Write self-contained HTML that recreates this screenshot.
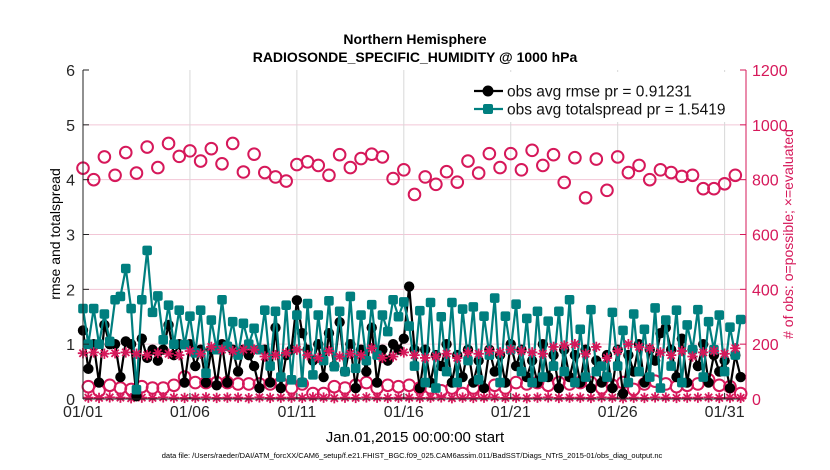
<!DOCTYPE html>
<html><head><meta charset="utf-8">
<style>
html,body{margin:0;padding:0;background:#fff;}
svg{display:block;font-family:"Liberation Sans",sans-serif;}
</style></head>
<body>
<svg id="chart" width="830" height="470" viewBox="0 0 830 470" xmlns="http://www.w3.org/2000/svg">
<rect x="0" y="0" width="830" height="470" fill="#fff"/>
<g id="grid"></g>
<g id="series"></g>
<g id="axes"></g>
<text x="415" y="44" text-anchor="middle" font-size="14" font-weight="bold">Northern Hemisphere</text>
<text x="415" y="62" text-anchor="middle" font-size="14" font-weight="bold">RADIOSONDE_SPECIFIC_HUMIDITY @ 1000 hPa</text>
<text transform="translate(60,234) rotate(-90)" text-anchor="middle" font-size="14">rmse and totalspread</text>
<text transform="translate(793,234) rotate(-90)" text-anchor="middle" font-size="14" fill="#d6185a"># of obs: o=possible; ×=evaluated</text>
<text x="415" y="442" text-anchor="middle" font-size="15">Jan.01,2015 00:00:00 start</text>
<text x="412" y="458" text-anchor="middle" font-size="7.5">data file: /Users/raeder/DAI/ATM_forcXX/CAM6_setup/f.e21.FHIST_BGC.f09_025.CAM6assim.011/BadSST/Diags_NTrS_2015-01/obs_diag_output.nc</text>
<g id="legend"></g>
</svg>
<script>
// ---- data ----
const xTickLabels = ["01/01","01/06","01/11","01/16","01/21","01/26","01/31"];
const xTickDays = [0,5,10,15,20,25,30];
const leftTicks = [0,1,2,3,4,5,6];
const rightTicks = [0,200,400,600,800,1000,1200];
const rmseValues = [1.25,0.55,1.0,0.3,1.35,1.0,1.0,0.4,1.05,1.0,0.05,1.1,0.75,0.9,0.7,0.9,
1.35,0.8,1.0,0.3,1.0,0.6,0.9,0.3,0.9,0.25,1.0,0.3,0.9,0.5,0.9,0.8,
0.6,0.2,0.9,0.3,1.3,0.2,0.8,0.9,1.8,1.2,0.9,0.7,1.0,0.4,1.2,0.6,
1.4,0.5,1.0,0.2,0.9,0.5,1.3,0.3,0.9,0.7,1.0,0.9,1.1,2.05,0.9,0.2,
0.9,0.3,0.8,0.6,1.0,0.3,0.8,0.4,0.9,0.3,0.7,0.2,0.9,0.5,0.8,0.3,
1.0,0.6,0.9,0.4,0.7,0.3,1.0,0.4,0.8,0.2,0.9,0.4,0.8,0.3,0.9,0.2,
0.7,0.3,0.8,0.2,0.9,0.1,0.8,0.5,1.0,0.3,0.9,0.7,1.2,1.3,0.9,0.4,
1.1,0.3,0.9,0.6,1.0,0.3,0.8,0.5,0.7,0.2,0.8,0.4];
const spreadValues = [1.65,1.0,1.65,1.0,1.55,1.05,1.81,1.87,2.38,1.65,0.17,1.81,2.71,1.58,1.88,1.08,
1.71,1.0,1.62,0.99,1.51,0.84,1.62,0.47,1.44,0.9,1.81,0.96,1.41,0.8,1.38,1.0,
1.29,0.9,1.62,0.6,1.6,0.4,1.71,0.35,1.53,0.3,1.74,0.44,1.53,0.7,1.79,0.59,1.6,0.5,1.87,0.56,1.53,0.7,1.72,0.8,1.53,1.23,1.81,1.5,1.77,1.33,
0.6,1.61,0.3,1.76,0.2,1.5,0.5,1.76,0.3,1.64,0.7,1.68,0.35,1.51,0.8,1.84,0.3,1.51,0.9,1.73,0.5,1.47,0.3,1.6,0.4,1.42,0.6,1.6,0.5,1.81,0.3,1.27,
0.4,1.63,0.5,0.6,0.4,1.58,0.6,1.25,0.3,1.55,0.5,1.27,0.4,1.66,0.2,1.44,0.6,1.62,0.3,1.35,0.9,1.63,0.4,1.41,0.9,1.53,0.5,1.31,0.8,1.45];
// counts at 00Z/12Z
const possibleMain = [842,800,883,816,899,824,919,844,932,885,905,868,913,858,932,828,893,826,810,795,855,865,852,816,891,844,877,893,883,804,
836,746,810,783,829,791,868,824,895,844,895,836,907,852,891,790,880,734,875,761,883,826,852,800,836,826,812,816,767,767,785,816];
const evaluatedMain = [167,170,165,167,170,165,160,168,165,160,175,165,190,180,175,180,180,155,160,168,180,160,150,175,155,165,160,185,150,155,170,
160,150,155,165,150,170,165,175,170,180,175,170,165,190,195,200,165,190,150,175,200,190,185,170,160,175,155,170,175,165,185];
// counts at 06Z/18Z
const possibleOff = [45,30,50,40,35,45,40,40,50,80,60,60,60,60,55,55,55,55,60,40,55,20,20,45,40,50,60,40,50,45,50,
40,40,30,40,20,40,20,50,40,60,55,60,50,60,55,60,60,40,50,60,35,55,65,55,45,50,55,70,50,45,20];
const evaluatedOff = [5,4,6,5,3,5,4,6,5,4,5,6,4,5,5,3,6,4,5,5,4,6,5,3,5,4,6,5,4,5,5,
4,5,6,3,5,4,5,6,4,5,3,5,6,4,5,5,4,6,5,3,5,4,6,5,4,5,5,6,4,5,4];

// ---- scales ----
const X0=83, X1=746, Y0=399, Y1=70, DAYS=31;
const xs = t => X0 + (t/DAYS)*(X1-X0);
const yL = v => Y0 - (v/6)*(Y0-Y1);
const yR = v => Y0 - (v/1200)*(Y0-Y1);
const NS="http://www.w3.org/2000/svg";
function mk(tag, attrs, parent){const e=document.createElementNS(NS,tag);for(const k in attrs)e.setAttribute(k,attrs[k]);parent.appendChild(e);return e;}
const grid=document.getElementById('grid'), series=document.getElementById('series'), axes=document.getElementById('axes'), legend=document.getElementById('legend');
const CR="#d6185a", TEAL="#007f7f";

rightTicks.forEach(v=>{ if(v===0||v===1200) return;
  const l=mk('line',{x1:X0,x2:X1,y1:yR(v),y2:yR(v),stroke:"#f2c6d6","stroke-width":1},grid);
   });
xTickDays.forEach(d=>{ if(d===0) return;
  const l=mk('line',{x1:xs(d),x2:xs(d),y1:Y0,y2:Y1,stroke:"#d8d8d8","stroke-width":1},grid);
   });

const tAll = rmseValues.map((_,i)=>i*0.25);
const tMain = possibleMain.map((_,i)=>i*0.5);
const tOff = possibleOff.map((_,i)=>i*0.5+0.25);

function polyline(vals, color, name){
  const p=mk('polyline',{points:vals.map((v,i)=>xs(tAll[i]).toFixed(1)+","+yL(v).toFixed(1)).join(" "),fill:"none",stroke:color,"stroke-width":2.2,"stroke-linejoin":"round"},series);
   
}
function circleOpen(t,v,name){
  const c=mk('circle',{cx:xs(t),cy:yR(v),r:5.8,fill:"none",stroke:CR,"stroke-width":2},series);
   
}
function star(t,v,name){
  const cx=xs(t), cy=yR(v), r=5.2;
  const g=mk('g',{stroke:CR,"stroke-width":1.8},series);
   
  [[0,r],[r,0],[r*0.7,r*0.7],[r*0.7,-r*0.7]].forEach(([dx,dy])=>mk('line',{x1:cx-dx,y1:cy-dy,x2:cx+dx,y2:cy+dy},g));
}

possibleOff.forEach((v,i)=>circleOpen(tOff[i],v,'possible-marker'));
evaluatedOff.forEach((v,i)=>star(tOff[i],v,'evaluated-marker'));

polyline(rmseValues,"#000",'rmse-line');
rmseValues.forEach((v,i)=>{const c=mk('circle',{cx:xs(tAll[i]),cy:yL(v),r:5.2,fill:"#000"},series);
   });
polyline(spreadValues,TEAL,'spread-line');
spreadValues.forEach((v,i)=>{const s=mk('rect',{x:xs(tAll[i])-4.8,y:yL(v)-4.8,width:9.6,height:9.6,rx:2,fill:TEAL},series);
   });

possibleMain.forEach((v,i)=>circleOpen(tMain[i],v,'possible-marker'));
evaluatedMain.forEach((v,i)=>star(tMain[i],v,'evaluated-marker'));

let a=mk('line',{x1:X0,x2:X0,y1:Y0,y2:Y1,stroke:"#222","stroke-width":1},axes);
 
a=mk('line',{x1:X0,x2:X1,y1:Y0,y2:Y0,stroke:"#222","stroke-width":1},axes);
 
a=mk('line',{x1:X1,x2:X1,y1:Y0,y2:Y1,stroke:CR,"stroke-width":1},axes);
 

leftTicks.forEach(v=>{
  const tk=mk('line',{x1:X0,x2:X0+6,y1:yL(v),y2:yL(v),stroke:"#222"},axes);
   
  const t=mk('text',{x:X0-8,y:yL(v)+6,"text-anchor":"end","font-size":16,fill:"#262626"},axes);
   
  t.textContent=v;
});
rightTicks.forEach(v=>{
  const tk=mk('line',{x1:X1-6,x2:X1,y1:yR(v),y2:yR(v),stroke:CR},axes);
   
  const t=mk('text',{x:X1+6,y:yR(v)+6,"text-anchor":"start","font-size":16,fill:CR},axes);
   
  t.textContent=v;
});
xTickDays.forEach((d,i)=>{
  const tk=mk('line',{x1:xs(d),x2:xs(d),y1:Y0,y2:Y0-6,stroke:"#222"},axes);
   
  const t=mk('text',{x:xs(d),y:Y0+18,"text-anchor":"middle","font-size":16,fill:"#262626"},axes);
   
  t.textContent=xTickLabels[i];
});

let lb=mk('rect',{x:470,y:72,width:274,height:50,fill:"#fff"},legend);
 
const legendItems=[["obs avg rmse pr = 0.91231","#000",'circle',91],["obs avg totalspread pr = 1.5419",TEAL,'square',109]];
legendItems.forEach(([label,col,shape,y])=>{
  const g=mk('g',{},legend);
   
  mk('line',{x1:474,x2:503,y1:y,y2:y,stroke:col,"stroke-width":2.2},g);
  if(shape==='circle') mk('circle',{cx:488,cy:y,r:5.5,fill:col},g);
  else mk('rect',{x:483,y:y-5,width:10,height:10,rx:2,fill:col},g);
  const t=mk('text',{x:507,y:y+5.5,"font-size":15.5,fill:"#111"},g);
  t.textContent=label;
});
</script>
</body></html>
